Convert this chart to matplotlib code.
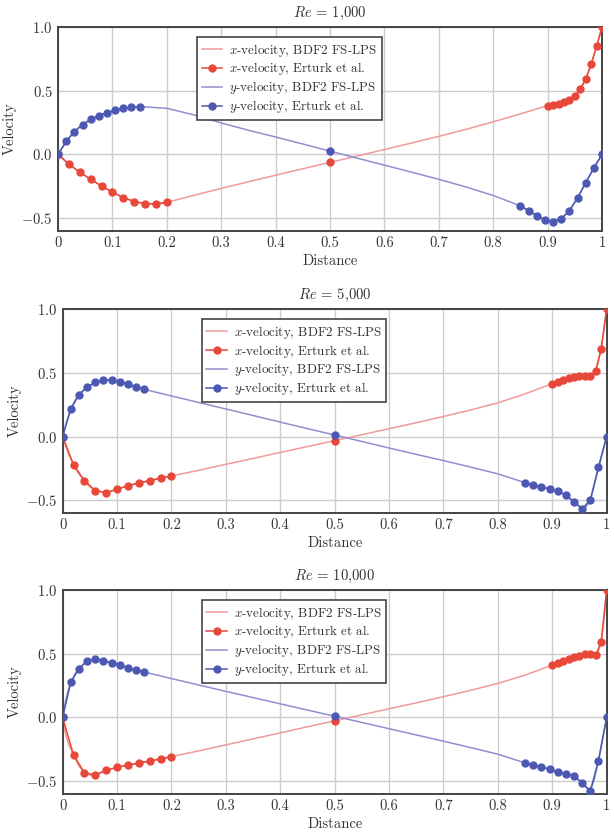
import numpy as np
import matplotlib
matplotlib.use('Agg')
import matplotlib.pyplot as plt

plt.rcParams['font.family'] = 'cmr10'
plt.rcParams['mathtext.fontset'] = 'cm'
plt.rcParams['axes.formatter.use_mathtext'] = True
plt.rcParams['axes.unicode_minus'] = True

# Erturk et al. benchmark positions
u_pts_x = [0, 0.02, 0.04, 0.06, 0.08, 0.10, 0.12, 0.14, 0.16, 0.18, 0.20, 0.5,
           0.90, 0.91, 0.92, 0.93, 0.94, 0.95, 0.96, 0.97, 0.98, 0.99, 1.0]
v_pts_x = [0, 0.015, 0.030, 0.045, 0.060, 0.075, 0.090, 0.105, 0.120, 0.135, 0.150, 0.5,
           0.850, 0.865, 0.880, 0.895, 0.910, 0.925, 0.940, 0.955, 0.970, 0.985, 1.0]

u_erturk_1000 = [0, -0.0757, -0.1392, -0.1951, -0.2472, -0.2960, -0.3381, -0.3690, -0.3854, -0.3869, -0.3756, -0.0620,
                 0.3838, 0.3913, 0.3993, 0.4101, 0.4276, 0.4582, 0.5102, 0.5917, 0.7065, 0.8486, 1.0]
v_erturk_1000 = [0, 0.1019, 0.1792, 0.2349, 0.2746, 0.3041, 0.3273, 0.3460, 0.3605, 0.3705, 0.3756, 0.0258,
                 -0.4028, -0.4407, -0.4803, -0.5132, -0.5263, -0.5052, -0.4417, -0.3400, -0.2211, -0.1064, 0]
u_erturk_5000 = [0, -0.221, -0.346, -0.424, -0.440, -0.414, -0.386, -0.365, -0.346, -0.327, -0.309, -0.032,
                 0.4155, 0.4307, 0.4452, 0.4582, 0.4683, 0.4738, 0.4739, 0.4749, 0.5159, 0.6866, 1.0]
v_erturk_5000 = [0, 0.216, 0.328, 0.388, 0.424, 0.443, 0.440, 0.430, 0.409, 0.391, 0.370, 0.0117,
                 -0.362, -0.380, -0.396, -0.411, -0.430, -0.458, -0.513, -0.565, -0.500, -0.243, 0]
u_erturk_10000 = [0, -0.294, -0.433, -0.451, -0.415, -0.391, -0.373, -0.359, -0.341, -0.325, -0.307, -0.026,
                  0.411, 0.424, 0.440, 0.455, 0.471, 0.484, 0.495, 0.497, 0.487, 0.592, 1.0]
v_erturk_10000 = [0, 0.276, 0.383, 0.444, 0.459, 0.446, 0.428, 0.412, 0.391, 0.373, 0.357, 0.010,
                  -0.356, -0.372, -0.387, -0.406, -0.427, -0.442, -0.458, -0.513, -0.576, -0.340, 0]

# BDF2 FS-LPS profiles
u_line_x = [0, 0.005, 0.01, 0.02, 0.03, 0.04, 0.05, 0.06, 0.08, 0.10, 0.12, 0.14, 0.16, 0.18, 0.20,
            0.25, 0.30, 0.35, 0.40, 0.45, 0.50, 0.55, 0.60, 0.65, 0.70, 0.75, 0.80, 0.85,
            0.90, 0.92, 0.94, 0.95, 0.96, 0.97, 0.98, 0.985, 0.99, 0.995, 1.0]
u_line_1000 = [0, -0.018, -0.037, -0.076, -0.108, -0.139, -0.167, -0.195, -0.247, -0.296, -0.338, -0.369,
               -0.385, -0.387, -0.376, -0.320, -0.266, -0.214, -0.163, -0.112, -0.062, -0.012, 0.039,
               0.090, 0.142, 0.197, 0.256, 0.318, 0.384, 0.399, 0.428, 0.458, 0.510, 0.592, 0.707,
               0.775, 0.849, 0.920, 1.0]
u_line_5000 = [0, -0.07, -0.13, -0.222, -0.295, -0.347, -0.395, -0.423, -0.440, -0.414, -0.386, -0.365,
               -0.346, -0.327, -0.310, -0.265, -0.218, -0.172, -0.125, -0.079, -0.032, 0.014, 0.061,
               0.108, 0.157, 0.208, 0.264, 0.334, 0.415, 0.445, 0.468, 0.474, 0.474, 0.475, 0.516,
               0.590, 0.687, 0.840, 1.0]
u_line_10000 = [0, -0.12, -0.20, -0.294, -0.385, -0.433, -0.452, -0.451, -0.415, -0.391, -0.373, -0.358,
                -0.341, -0.325, -0.307, -0.262, -0.215, -0.168, -0.121, -0.073, -0.026, 0.021, 0.068,
                0.115, 0.163, 0.213, 0.267, 0.332, 0.411, 0.440, 0.471, 0.484, 0.495, 0.497, 0.487,
                0.520, 0.592, 0.760, 1.0]

v_line_x = [0, 0.005, 0.01, 0.015, 0.0225, 0.03, 0.045, 0.06, 0.075, 0.09, 0.105, 0.12, 0.135, 0.15,
            0.2, 0.25, 0.3, 0.35, 0.4, 0.45, 0.5, 0.55, 0.6, 0.65, 0.7, 0.75, 0.8,
            0.85, 0.865, 0.88, 0.895, 0.91, 0.925, 0.94, 0.955, 0.9625, 0.97, 0.9775, 0.985, 0.9925, 1.0]
v_line_1000 = [0, 0.036, 0.070, 0.102, 0.142, 0.179, 0.235, 0.275, 0.304, 0.327, 0.346, 0.3605, 0.3705,
               0.3756, 0.362, 0.310, 0.247, 0.190, 0.137, 0.082, 0.026, -0.029, -0.084, -0.139, -0.195,
               -0.255, -0.322, -0.403, -0.441, -0.480, -0.513, -0.526, -0.505, -0.442, -0.340, -0.282,
               -0.221, -0.163, -0.106, -0.052, 0]
v_line_5000 = [0, 0.08, 0.15, 0.216, 0.28, 0.328, 0.388, 0.424, 0.443, 0.440, 0.430, 0.409, 0.391,
               0.370, 0.318, 0.267, 0.216, 0.165, 0.113, 0.062, 0.012, -0.039, -0.090, -0.140, -0.189,
               -0.240, -0.293, -0.362, -0.380, -0.396, -0.411, -0.430, -0.458, -0.513, -0.567, -0.550,
               -0.499, -0.370, -0.245, -0.120, 0]
v_line_10000 = [0, 0.12, 0.21, 0.276, 0.34, 0.383, 0.444, 0.459, 0.446, 0.428, 0.412, 0.391, 0.373,
                0.357, 0.305, 0.255, 0.205, 0.156, 0.107, 0.058, 0.010, -0.039, -0.088, -0.137, -0.186,
                -0.236, -0.288, -0.356, -0.372, -0.387, -0.406, -0.427, -0.442, -0.458, -0.513, -0.550,
                -0.576, -0.480, -0.340, -0.170, 0]

titles = [r'$Re$ = 1,000', r'$Re$ = 5,000', r'$Re$ = 10,000']
u_lines = [u_line_1000, u_line_5000, u_line_10000]
v_lines = [v_line_1000, v_line_5000, v_line_10000]
u_pts = [u_erturk_1000, u_erturk_5000, u_erturk_10000]
v_pts = [v_erturk_1000, v_erturk_5000, v_erturk_10000]

xticks = [0, 0.1, 0.2, 0.3, 0.4, 0.5, 0.6, 0.7, 0.8, 0.9, 1.0]
xticklabels = ['0', '0.1', '0.2', '0.3', '0.4', '0.5', '0.6', '0.7', '0.8', '0.9', '1']

red_line = '#f29a9a'
red_mark = '#e8483a'
blue_line = '#8f8fd0'
blue_mark = '#4d58b2'

fig = plt.figure(figsize=(6.14, 8.32), dpi=100)
boxes = [[0.0945, 0.7224, 0.886, 0.2452],
         [0.1020, 0.3834, 0.886, 0.2452],
         [0.1020, 0.0457, 0.886, 0.2452]]

# contiguous groups of benchmark points
groups = [slice(0, 11), slice(11, 12), slice(12, 23)]

for k in range(3):
    ax = fig.add_axes(boxes[k])
    ux = np.array(u_pts_x)
    vx = np.array(v_pts_x)
    up = np.array(u_pts[k])
    vp = np.array(v_pts[k])

    ax.plot(u_line_x, u_lines[k], color=red_line, lw=1.1, label=r'$x$-velocity, BDF2 FS-LPS', zorder=2)
    for i, g in enumerate(groups):
        ax.plot(ux[g], up[g], color=red_mark, lw=1.1, marker='o', ms=5,
                label=r'$x$-velocity, Erturk et al.' if i == 0 else None, zorder=3)
    ax.plot(v_line_x, v_lines[k], color=blue_line, lw=1.1, label=r'$y$-velocity, BDF2 FS-LPS', zorder=2)
    for i, g in enumerate(groups):
        ax.plot(vx[g], vp[g], color=blue_mark, lw=1.1, marker='o', ms=5,
                label=r'$y$-velocity, Erturk et al.' if i == 0 else None, zorder=3)

    ax.set_xlim(0, 1)
    ax.set_ylim(-0.6, 1.0)
    ax.set_xticks(xticks)
    ax.set_xticklabels(xticklabels)
    ax.set_yticks([-0.5, 0.0, 0.5, 1.0])
    ax.tick_params(length=0, labelsize=10.5, colors='#333333', pad=4)
    ax.grid(True, color='#cccccc', lw=1.0)
    ax.set_axisbelow(True)
    for s in ax.spines.values():
        s.set_color('#444444')
        s.set_linewidth(1.4)

    ax.set_title(titles[k], fontsize=10.5, color='#333333', pad=7)
    ax.set_xlabel('Distance', fontsize=10.5, color='#333333', labelpad=3)
    ax.set_ylabel('Velocity', fontsize=10.5, color='#333333', labelpad=3)

    leg = ax.legend(loc='upper left', bbox_to_anchor=(0.2555, 0.951), borderaxespad=0,
                    fontsize=9.4, fancybox=False, framealpha=1, edgecolor='#444444',
                    handlelength=1.6, labelspacing=0.15, borderpad=0.35, handletextpad=0.5)
    leg.get_frame().set_linewidth(1.2)
    for t in leg.get_texts():
        t.set_color('#333333')

plt.savefig('out.png', dpi=100)
